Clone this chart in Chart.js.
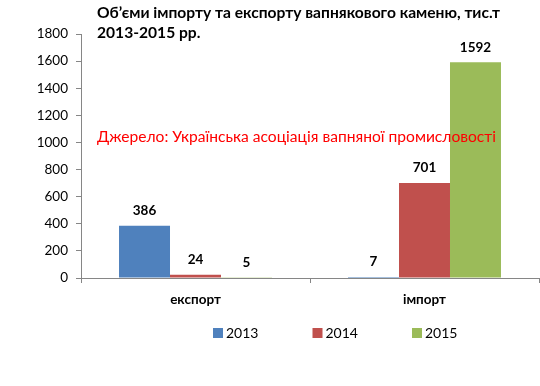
<!DOCTYPE html>
<html>
<head>
<meta charset="utf-8">
<script src="https://cdn.jsdelivr.net/npm/chart.js@4"></script>
<style>
	body { margin: 0; background: #fff; }
	#wrap { width: 540px; height: 386px; }
</style>
</head>
<body>
<div id="wrap"><canvas id="chart-1" width="540" height="386"></canvas></div>
<script>
const categories = ["експорт", "імпорт"];
const years = ["2013", "2014", "2015"];
const values2013 = [386, 7];
const values2014 = [24, 701];
const values2015 = [5, 1592];
const yTicks = [0, 200, 400, 600, 800, 1000, 1200, 1400, 1600, 1800];
const titleLines = ["Об’єми імпорту та експорту вапнякового каменю, тис.т", "2013-2015 рр."];
const sourceText = "Джерело: Українська асоціація вапняної промисловості";

const FONT = "Lato, 'Open Sans', sans-serif";
const axisColor = "#868686";

// value labels above each bar
const valueLabels = {
	id: "valueLabels",
	afterDatasetsDraw(chart) {
		const ctx = chart.ctx;
		ctx.save();
		ctx.font = "bold 13.5px " + FONT;
		ctx.fillStyle = "#000";
		ctx.textAlign = "center";
		ctx.textBaseline = "middle";
		chart.data.datasets.forEach((ds, i) => {
			chart.getDatasetMeta(i).data.forEach((bar, j) => {
				ctx.fillText(ds.data[j], bar.x, bar.y - 15);
			});
		});
		ctx.restore();
	}
};

// title, source note and legend
const extras = {
	id: "extras",
	afterDraw(chart) {
		const ctx = chart.ctx;
		const area = chart.chartArea;
		ctx.save();
		ctx.textAlign = "left";
		ctx.textBaseline = "middle";
		ctx.fillStyle = "#000";
		ctx.font = "bold 15.6px " + FONT;
		titleLines.forEach((line, i) => ctx.fillText(line, area.left + 16, 13 + i * 20));

		ctx.fillStyle = "#ff0000";
		ctx.font = "15.6px " + FONT;
		ctx.fillText(sourceText, area.left + 16, chart.scales.y.getPixelForValue(1040));

		ctx.font = "14px " + FONT;
		const ly = area.bottom + 55;
		chart.data.datasets.forEach((ds, i) => {
			const lx = area.left + 132 + i * 99.5;
			ctx.fillStyle = ds.backgroundColor;
			ctx.fillRect(lx, ly - 5, 10, 10);
			ctx.fillStyle = "#000";
			ctx.fillText(ds.label, lx + 13, ly);
		});
		ctx.restore();
	}
};

new Chart("chart-1", {
	type: "bar",
	data: {
		labels: categories,
		datasets: [
			{ label: years[0], data: values2013, backgroundColor: "#4F81BD" },
			{ label: years[1], data: values2014, backgroundColor: "#C0504D" },
			{ label: years[2], data: values2015, backgroundColor: "#9BBB59" },
		]
	},
	options: {
		responsive: false,
		animation: false,
		layout: { padding: { top: 34, right: 1, left: 0, bottom: 0 } },
		plugins: {
			legend: { display: false },
			title: { display: false },
			tooltip: { enabled: false }
		},
		datasets: { bar: { categoryPercentage: 0.668, barPercentage: 1 } },
		scales: {
			x: {
				grid: { display: true, drawOnChartArea: false, offset: true, tickLength: 5, color: axisColor },
				border: { color: axisColor },
				ticks: { color: "#000", padding: 9, font: { family: FONT, size: 13.5, weight: "bold" } },
				afterFit(scale) { scale.height = 108; }
			},
			y: {
				min: 0,
				max: 1800,
				afterBuildTicks(scale) { scale.ticks = yTicks.map(v => ({ value: v })); },
				grid: { display: true, drawOnChartArea: false, tickLength: 5, color: axisColor },
				border: { color: axisColor },
				ticks: { color: "#000", padding: 8, font: { family: FONT, size: 13.5 }, callback: v => String(v) },
				afterFit(scale) { scale.width = 81; }
			}
		}
	},
	plugins: [valueLabels, extras]
});
</script>
</body>
</html>
